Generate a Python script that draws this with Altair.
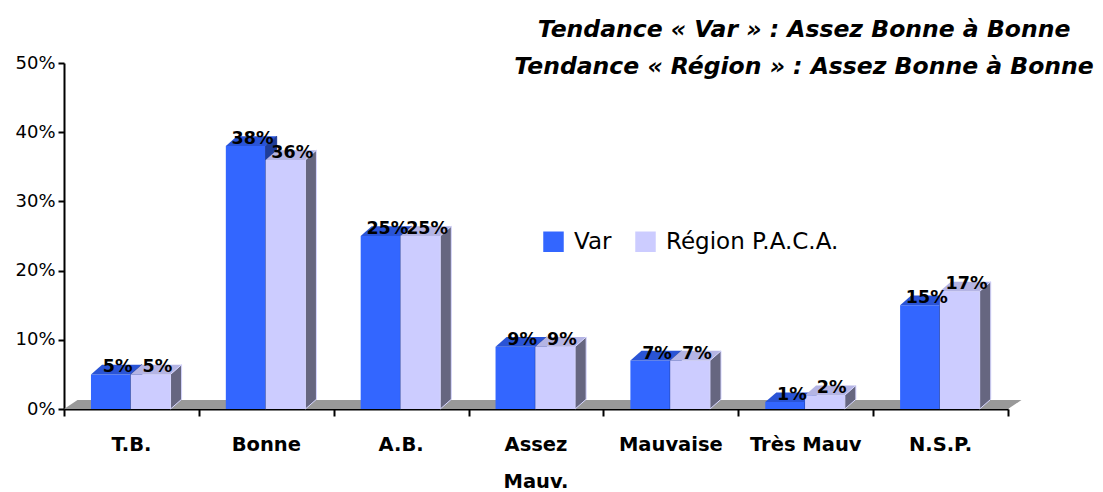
import altair as alt
import pandas as pd

categories = ["T.B.", "Bonne", "A.B.", "Assez Mauv.", "Mauvaise", "Très Mauv", "N.S.P."]
tick_labels = ["T.B.", "Bonne", "A.B.", "Assez\nMauv.", "Mauvaise", "Très Mauv", "N.S.P."]
var_values = [5, 38, 25, 9, 7, 1, 15]
region_values = [5, 36, 25, 9, 7, 2, 17]
series = ["Var", "Région P.A.C.A."]
title_lines = ["Tendance « Var » : Assez Bonne à Bonne",
               "Tendance « Région » : Assez Bonne à Bonne"]

W, H = 944, 346
n = len(categories)
BAR_W = 0.295
START = 0.2
DX = 0.082      # bar depth in category units
DY = 1.4        # bar depth in % units
FDX = 0.1       # floor depth
FDY = 1.3

front_rows, top_rows, side_rows, label_rows = [], [], [], []
for i, cat in enumerate(categories):
    for s, (name, vals) in enumerate(zip(series, [var_values, region_values])):
        v = vals[i]
        x0 = i + START + s * BAR_W
        x1 = x0 + BAR_W
        pid = f"{s}-{i}"
        front_rows.append(dict(series=name, s=s, x=x0, x2=x1, y=0, y2=v))
        top_rows += [
            dict(s=s, poly=pid, x=x0, y=v, y2=v),
            dict(s=s, poly=pid, x=x0 + DX, y=v, y2=v + DY),
            dict(s=s, poly=pid, x=x1, y=v, y2=v + DY),
            dict(s=s, poly=pid, x=x1 + DX, y=v + DY, y2=v + DY),
        ]
        side_rows += [
            dict(s=s, poly=pid, x=x1, y=0, y2=v),
            dict(s=s, poly=pid, x=x1 + DX, y=DY, y2=v + DY),
        ]
        label_rows.append(dict(s=s, x=(x0 + x1) / 2 + 0.05, y=v, text=f"{v}%"))

front = pd.DataFrame(front_rows)
top = pd.DataFrame(top_rows)
side = pd.DataFrame(side_rows)
labels = pd.DataFrame(label_rows)
cats = pd.DataFrame(dict(x=[i + 0.5 for i in range(n)], text=tick_labels))
floor = pd.DataFrame(dict(poly=["f"] * 4, x=[0, FDX, n, n + FDX],
                          y=[0, 0, 0, FDY], y2=[0, FDY, FDY, FDY]))

xs = alt.Scale(domain=[0, n], nice=False, zero=False)
ys = alt.Scale(domain=[0, 50], nice=False)
color = alt.Color("series:N", scale=alt.Scale(domain=series, range=["#3366FF", "#CCCCFF"]),
                  legend=alt.Legend(title=None, orient="none", legendX=478, legendY=167,
                                    direction="horizontal", symbolType="square",
                                    symbolSize=420, symbolStrokeWidth=0,
                                    labelFont="DejaVu Sans", labelFontSize=23, labelLimit=400,
                                    labelColor="black", columnPadding=22, labelOffset=9))

xaxis = alt.Axis(values=list(range(n + 1)), labels=False, title=None, grid=False,
                 domainColor="black", domainWidth=2, tickColor="black", tickWidth=2, tickSize=7)
yaxis = alt.Axis(values=[0, 10, 20, 30, 40, 50], labelExpr="datum.value + '%'", title=None,
                 grid=False, domainColor="black", domainWidth=2, tickColor="black",
                 tickWidth=2, tickSize=6, labelFont="DejaVu Sans", labelFontSize=18,
                 labelColor="black", labelPadding=3)

floor_l = alt.Chart(floor).mark_area(color="#999999", interpolate="linear").encode(
    x=alt.X("x:Q", scale=xs, axis=xaxis), y=alt.Y("y:Q", scale=ys, axis=yaxis), y2="y2:Q",
    detail="poly:N")


def faces(s):
    fr = alt.Chart(front[front.s == s]).mark_bar().encode(
        x=alt.X("x:Q", scale=xs), x2="x2:Q", y=alt.Y("y:Q", scale=ys), y2="y2:Q", color=color)
    tp = alt.Chart(top[top.s == s]).mark_area(
        color=["#2A54D6", "#B4B4E4"][s], interpolate="linear").encode(
        x=alt.X("x:Q", scale=xs), y=alt.Y("y:Q", scale=ys), y2="y2:Q", detail="poly:N")
    sd = alt.Chart(side[side.s == s]).mark_area(
        color=["#1F3D99", "#666680"][s], interpolate="linear",
        stroke=["#1F3D99", "#D6D6FF"][s], strokeWidth=1).encode(
        x=alt.X("x:Q", scale=xs), y=alt.Y("y:Q", scale=ys), y2="y2:Q", detail="poly:N")
    return [fr, tp, sd]


val_text = alt.Chart(labels).mark_text(
    font="DejaVu Sans", fontWeight="bold", fontSize=17.5, color="black",
    baseline="alphabetic", dy=-2).encode(
    x=alt.X("x:Q", scale=xs), y=alt.Y("y:Q", scale=ys), text="text:N")

cat_text = alt.Chart(cats).mark_text(
    font="DejaVu Sans", fontWeight="bold", fontSize=19.5, color="black",
    baseline="middle", lineBreak="\n", lineHeight=37).encode(
    x=alt.X("x:Q", scale=xs), y=alt.value(H + 36), text="text:N")

chart = alt.layer(floor_l, *faces(0), *faces(1), val_text, cat_text).properties(
    width=W, height=H,
    background="white",
    autosize=alt.AutoSizeParams(type="none"),
    padding={"left": 56, "top": 55, "right": 87, "bottom": 83},
    title=alt.Title(title_lines, anchor="middle", frame="group", dx=268, offset=-24,
                    font="DejaVu Sans", fontSize=23.5, fontWeight="bold", fontStyle="italic",
                    color="black", lineHeight=37),
).configure_view(stroke=None)

chart.save("out.html", embed_options={"renderer": "svg", "actions": False})
